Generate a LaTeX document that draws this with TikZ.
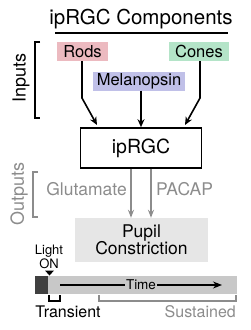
\documentclass[tikz,border=0pt]{standalone}
\usepackage{fontspec}
\setmainfont{TeX Gyre Heros}
\usetikzlibrary{arrows.meta}
\definecolor{rodpink}{RGB}{236,186,192}
\definecolor{conegreen}{RGB}{180,228,200}
\definecolor{melblue}{RGB}{192,192,232}
\definecolor{outgray}{RGB}{140,140,140}
\definecolor{pupilgray}{RGB}{230,230,230}
\definecolor{bargray}{RGB}{200,200,200}
\definecolor{bardark}{RGB}{64,64,64}
\tikzset{
  inbox/.style={inner sep=0pt, minimum height=19pt, font=\fontsize{16.5}{18}\selectfont},
  inarrow/.style={line width=1.6pt, -{Stealth[length=8pt,width=7pt]}},
  outarrow/.style={line width=1.5pt, draw=outgray, -{Stealth[length=8pt,width=6pt]}},
  lbl/.style={font=\fontsize{17}{19}\selectfont, inner sep=0pt},
}
\begin{document}
\begin{tikzpicture}[x=1pt,y=-1pt]
\useasboundingbox (0,0) rectangle (250,330);
% title
\node[lbl, font=\fontsize{20.5}{21}\selectfont] (title) at (141,19.5) {ipRGC Components};
\draw[line width=1.2pt] (55,33) -- (228,33);
% inputs bracket
\draw[line width=1.2pt] (40,42) -- (35,42) -- (35,118) -- (40,118);
\node[lbl, font=\fontsize{18}{19}\selectfont, rotate=90] (inputs) at (21,78) {Inputs};
% input boxes
\node[inbox, fill=rodpink, minimum width=51pt] (rods) at (82.5,51.5) {Rods};
\node[inbox, fill=conegreen, minimum width=60pt] (cones) at (199,51.5) {Cones};
\node[inbox, fill=melblue, minimum width=92pt] (mel) at (139,81) {Melanopsin};
% ipRGC box
\node[draw, line width=1.6pt, minimum width=121pt, minimum height=40pt, inner sep=0pt,
      font=\fontsize{19.5}{21}\selectfont] (ip) at (141,148) {ipRGC};
% column coordinates
\coordinate (xr) at (82,0);
\coordinate (xc) at (200,0);
\coordinate (xm) at (141,0);
\coordinate (xg) at (131,0);
\coordinate (xp) at (151,0);
% arrows in
\coordinate (rk) at (82,98);
\coordinate (ck) at (200,98);
\coordinate (rt) at (97,125);
\coordinate (ct) at (185,125);
\draw[inarrow] (rods.south -| xr) -- (rk) -- (rt);
\draw[inarrow] (cones.south -| xc) -- (ck) -- (ct);
\draw[inarrow] (mel.south -| xm) -- (ip.north -| xm);
% outputs bracket
\draw[outgray, line width=1.2pt] (38,172) -- (33,172) -- (33,217) -- (38,217);
\node[lbl, font=\fontsize{18}{19}\selectfont, rotate=90, text=outgray] (outputs) at (19,194) {Outputs};
% pupil box
\node[fill=pupilgray, minimum width=133pt, minimum height=44pt, inner sep=0pt, align=center,
      font=\fontsize{17.5}{17}\selectfont] (pupil) at (141.5,240) {Pupil\\Constriction};
% output arrows
\draw[outarrow] (ip.south -| xg) -- (pupil.north -| xg);
\draw[outarrow] (ip.south -| xp) -- (pupil.north -| xp);
\node[lbl, font=\fontsize{17.5}{19}\selectfont, text=outgray, anchor=east] (glu) at (127,189) {Glutamate};
\node[lbl, font=\fontsize{17.5}{19}\selectfont, text=outgray, anchor=west] (pacap) at (156,189) {PACAP};
% timeline
\fill[bargray] (35,276) rectangle (237,294);
\fill[bardark] (35,276) rectangle (48,294);
\node[font=\fontsize{13.5}{14}\selectfont, inner sep=1pt, fill=bargray] (time) at (141,285) {Time};
\coordinate (ts) at (60,285);
\coordinate (te) at (222,285);
\draw[line width=1.2pt] (ts) -- (time.west);
\draw[line width=1.2pt, -{Stealth[length=9pt,width=7pt]}] (time.east) -- (te);
\node[font=\fontsize{13}{11.5}\selectfont, inner sep=0pt, align=center] (light) at (49,257) {Light\\ON};
\fill (45,270.5) -- (54,270.5) -- (49.5,275.5) -- cycle;
% brackets under
\draw[line width=1.2pt] (49,295) -- (49,301) -- (60,301) -- (60,295);
\draw[outgray, line width=1.2pt] (99,295) -- (99,301) -- (236,301) -- (236,295);
\node[font=\fontsize{16}{18}\selectfont, inner sep=0pt] (trans) at (68,312) {Transient};
\node[font=\fontsize{16}{18}\selectfont, inner sep=0pt, text=outgray, anchor=east] (sust) at (236,312) {Sustained};
\end{tikzpicture}
\end{document}
